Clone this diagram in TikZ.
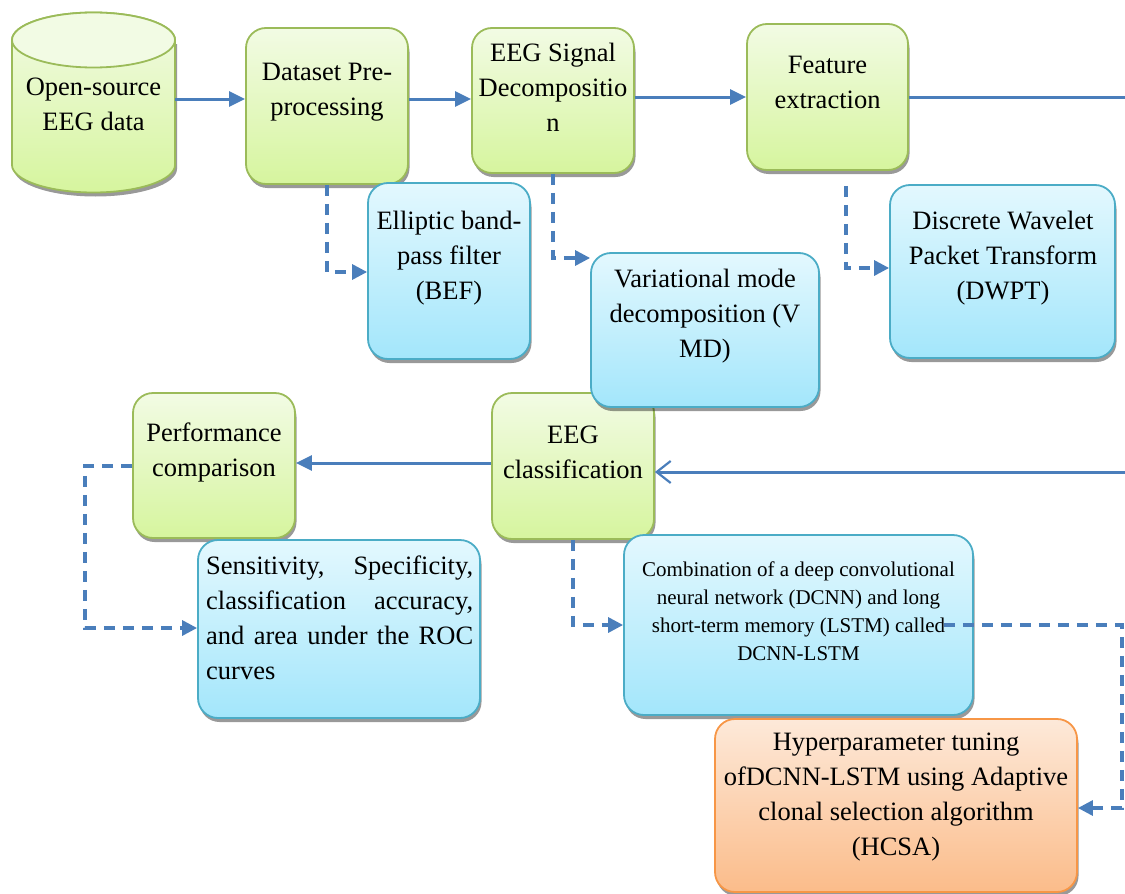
\documentclass[tikz,border=0pt]{standalone}
\usepackage{fontspec}
\setmainfont{Liberation Serif}
\usetikzlibrary{arrows.meta,shadows}
\definecolor{gtop}{HTML}{F2FBE4}
\definecolor{gbot}{HTML}{D6F59E}
\definecolor{gbd}{HTML}{9BBB59}
\definecolor{btop}{HTML}{E3F8FE}
\definecolor{bbot}{HTML}{A3E6FB}
\definecolor{bbd}{HTML}{4BACC6}
\definecolor{otop}{HTML}{FDE9D9}
\definecolor{obot}{HTML}{FBBC8A}
\definecolor{obd}{HTML}{F79646}
\definecolor{arrc}{HTML}{4A7EBB}
\tikzset{
 boxbase/.style={inner sep=0pt, line width=1.8pt, rounded corners=20pt,
   drop shadow={shadow xshift=1.5pt, shadow yshift=-4pt, fill=black, opacity=0.4}},
 gbox/.style={boxbase, draw=gbd, top color=gtop, bottom color=gbot},
 bbox/.style={boxbase, draw=bbd, top color=btop, bottom color=bbot},
 obox/.style={boxbase, draw=obd, top color=otop, bottom color=obot},
 txt/.style={inner sep=0pt, align=center, font=\fontsize{26.5}{35}\selectfont},
 stxt/.style={inner sep=0pt, align=center, font=\fontsize{21}{28}\selectfont},
 conn/.style={draw=arrc, line width=3pt},
 arrow/.style={conn, -{Triangle[length=16pt,width=15pt]}},
 dsh/.style={draw=arrc, line width=3.2pt, dash pattern=on 11pt off 8pt, -{Triangle[length=15pt,width=15pt]}},
}
\begin{document}
\begin{tikzpicture}[x=1pt,y=-1pt]
\useasboundingbox (0,0) rectangle (1125,894);
% cylinder
\fill[black, opacity=0.4] (14,44) -- (14,169) arc[start angle=180, end angle=360, x radius=81.5pt, y radius=27.5pt] -- (177,44) -- cycle;
\path[draw=gbd, line width=1.8pt, top color=gtop, bottom color=gbot]
  (12,40) -- (12,165) arc[start angle=180, end angle=360, x radius=81.5pt, y radius=27.5pt]
  -- (175,40) arc[start angle=0, end angle=180, x radius=81.5pt, y radius=27.5pt] -- cycle;
\draw[gbd, line width=1.8pt, fill=gtop] (93.5,40) ellipse[x radius=81.5pt, y radius=27.5pt];
\node[inner sep=0pt, minimum width=163pt, minimum height=180pt] (src) at (93.5,102) {};
\node[txt] (srct) at (93.5,104.5) {Open-source\\EEG data};
% green boxes
\node[gbox, minimum width=162pt, minimum height=156pt] (ds) at (327,106) {};
\node[gbox, minimum width=162pt, minimum height=145pt] (dec) at (553,100.5) {};
\node[gbox, minimum width=161pt, minimum height=146pt] (feat) at (827.5,97) {};
\node[gbox, minimum width=162pt, minimum height=145pt] (perf) at (214,465.5) {};
\node[gbox, minimum width=162pt, minimum height=146pt] (cls) at (573,466) {};
% blue boxes
\node[bbox, minimum width=162pt, minimum height=176pt] (bef) at (449,271) {};
\node[bbox, minimum width=228pt, minimum height=154pt] (vmd) at (705,330) {};
\node[bbox, minimum width=225pt, minimum height=173pt] (dwpt) at (1002.5,271.5) {};
\node[bbox, minimum width=282pt, minimum height=178pt] (sens) at (339,629) {};
\node[bbox, minimum width=349pt, minimum height=180pt] (dcnn) at (798.5,625) {};
% orange box
\node[obox, minimum width=362pt, minimum height=173pt] (hcsa) at (896,805.5) {};
% texts
\node[txt] (dstx) at (327,92.5) {Dataset Pre-\\processing};
\node[txt] (dectx) at (553,87) {EEG Signal\\Decompositio\\n};
\node[txt] (feattx) at (827.5,82.5) {Feature\\extraction};
\node[txt] (perftx) at (214,452) {Performance\\comparison};
\node[txt] (clstx) at (573,452) {EEG\\classification};
\node[txt] (beftx) at (449,258) {Elliptic band-\\pass filter\\(BEF)};
\node[txt] (vmdtx) at (705,316) {Variational mode\\decomposition (V\\MD)};
\node[txt] (dwpttx) at (1003,258) {Discrete Wavelet\\Packet Transform\\(DWPT)};
\node[txt, align=left, anchor=west] (senstx) at (206,618) {\makebox[267pt][s]{Sensitivity, Specificity,}\\\makebox[267pt][s]{classification accuracy,}\\\makebox[267pt][s]{and area under the ROC}\\curves};
\node[stxt] (dcnntx) at (798.5,611) {Combination of a deep convolutional\\neural network (DCNN) and long\\short-term memory (LSTM) called\\DCNN-LSTM};
\node[txt] (hcsatx) at (896,797) {Hyperparameter tuning\\ofDCNN-LSTM using Adaptive\\clonal selection algorithm\\(HCSA)};
% helper coordinates
\coordinate (r1) at (0,99);
\coordinate (r2) at (0,97);
\coordinate (fr) at (1125,97);
\coordinate (cr) at (1125,472);
\coordinate (r3) at (0,463);
\coordinate (b1) at (0,272);
\coordinate (b2) at (0,258);
\coordinate (b3) at (0,268);
\coordinate (pl) at (85,466);
\coordinate (b4) at (0,628);
\coordinate (dr) at (1122,625);
\coordinate (b5) at (0,808);
% connectors
\draw[arrow] (src.east |- r1) -- (ds.west |- r1);
\draw[arrow] (ds.east |- r1) -- (dec.west |- r1);
\draw[arrow] (dec.east |- r2) -- (feat.west |- r2);
\draw[conn] (feat.east |- fr) -- (fr);
\draw[conn, -{Straight Barb[length=14pt,width=22pt,line width=2.2pt]}] (cr) -- (cls.east |- cr);
\draw[arrow] (cls.west |- r3) -- (perf.east |- r3);
\draw[dsh] (ds.south) |- (bef.west |- b1);
\draw[dsh] (dec.south) |- (vmd.west |- b2);
\draw[dsh] ([xshift=18.5pt,yshift=-15pt]feat.south) |- (dwpt.west |- b3);
\draw[dsh] (perf.west |- pl) -- (pl) |- (sens.west |- b4);
\draw[dsh] (cls.south) |- (dcnn.west);
\draw[dsh] ([xshift=-30pt]dcnn.east) -- (dr) |- (hcsa.east |- b5);
\end{tikzpicture}
\end{document}
